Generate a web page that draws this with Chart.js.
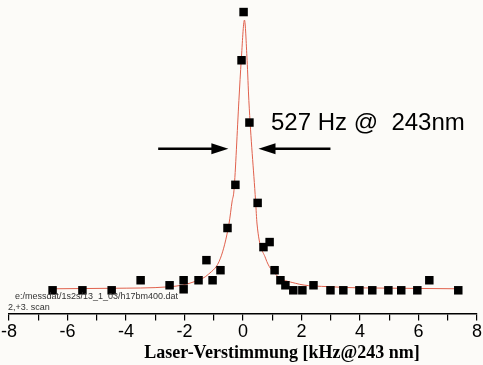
<!DOCTYPE html>
<html>
<head>
<meta charset="utf-8">
<script src="https://cdn.jsdelivr.net/npm/chart.js@4.4.1/dist/chart.umd.min.js"></script>
<style>
  html, body { margin: 0; padding: 0; background: #fcfbf8; }
  #wrap { width: 483px; height: 365px; position: relative; }
</style>
</head>
<body>
<div id="wrap"><canvas id="chart" width="483" height="365"></canvas></div>
<script>
// measured points (detuning in kHz, signal in arbitrary counts)
const scanX = [-6.51, -5.49, -4.49, -3.50, -2.51, -2.03, -2.03, -1.52, -1.25, -1.04,
  -0.77, -0.53, -0.26, -0.05, 0.02, 0.22, 0.50, 0.70, 0.91, 1.08,
  1.28, 1.45, 1.72, 2.03, 2.41, 2.99, 3.43, 3.98, 4.42, 4.97,
  5.41, 5.96, 6.37, 7.36];
const scanY = [1, 1, 1, 11, 6, 11, 2, 11, 31, 11,
  21, 63, 106, 230, 278, 168, 88, 44, 49, 21,
  11, 6, 1, 1, 6, 1, 1, 1, 1, 1,
  1, 1, 11, 1];

// fitted Lorentz curve
const fitX = [-6.51, -4.49, -2.51, -1.62, -1.18, -0.77, -0.48, -0.37, -0.31, -0.14, -0.06,
  0.05, 0.14, 0.20, 0.43, 0.48, 0.77, 1.11, 1.79, 2.99, 5.38, 7.36];
const fitY = [2.5, 3, 4.5, 10, 17, 33, 67, 90, 100, 190, 230,
  270, 230, 190, 90, 67, 33, 17, 8, 4.5, 3, 2.5];

const xTicks = [-8, -6, -4, -2, 0, 2, 4, 6, 8];
const widthLabel = "527 Hz @  243nm";
const fileLabel = "e:/messdat/1s2s/13_1_03/h17bm400.dat";
const scanLabel = "2,+3. scan";
const xTitle = "Laser-Verstimmung [kHz@243 nm]";
// FWHM arrows: tails and tips in kHz, height in counts
const arrowLeft = [-2.9, -0.5];
const arrowRight = [2.99, 0.53];
const arrowLevel = 142;

const annotations = {
  id: 'annotations',
  afterDraw(c) {
    const ctx = c.ctx;
    const xs = c.scales.x, ys = c.scales.y;
    ctx.save();

    // arrows
    const ay = ys.getPixelForValue(arrowLevel);
    function arrow(from, to) {
      const x0 = xs.getPixelForValue(from), x1 = xs.getPixelForValue(to);
      const dir = Math.sign(x1 - x0);
      ctx.strokeStyle = '#000';
      ctx.lineWidth = 2.5;
      ctx.beginPath();
      ctx.moveTo(x0, ay);
      ctx.lineTo(x1 - dir * 12, ay);
      ctx.stroke();
      ctx.fillStyle = '#000';
      ctx.beginPath();
      ctx.moveTo(x1, ay);
      ctx.lineTo(x1 - dir * 17, ay - 5.5);
      ctx.lineTo(x1 - dir * 17, ay + 5.5);
      ctx.closePath();
      ctx.fill();
    }
    arrow(arrowLeft[0], arrowLeft[1]);
    arrow(arrowRight[0], arrowRight[1]);

    // width label
    ctx.fillStyle = '#000';
    ctx.font = '24px "Liberation Sans", Arial, sans-serif';
    ctx.textBaseline = 'alphabetic';
    ctx.textAlign = 'left';
    ctx.fillText(widthLabel, 271, 130);

    // file path
    ctx.fillStyle = '#333';
    ctx.font = '9px "Liberation Sans", Arial, sans-serif';
    ctx.fillText(fileLabel, 15, 299);
    ctx.fillText(scanLabel, 8, 310);

    // axis title
    ctx.fillStyle = '#000';
    ctx.font = 'bold 18px "Liberation Serif", "Times New Roman", serif';
    ctx.textAlign = 'center';
    ctx.fillText(xTitle, 282, 358);
    ctx.restore();
  }
};

new Chart(document.getElementById('chart'), {
  type: 'scatter',
  data: {
    datasets: [
      {
        label: 'Fit',
        type: 'line',
        data: fitX.map((x, i) => ({ x: x, y: fitY[i] })),
        borderColor: '#e0604c',
        borderWidth: 1,
        pointRadius: 0,
        cubicInterpolationMode: 'monotone',
        fill: false,
        clip: false,
        order: 2
      },
      {
        label: 'Scan',
        data: scanX.map((x, i) => ({ x: x, y: scanY[i] })),
        pointStyle: 'rect',
        pointRadius: 6,
        backgroundColor: '#000',
        borderColor: '#000',
        borderWidth: 0,
        clip: false,
        order: 1
      }
    ]
  },
  options: {
    responsive: false,
    animation: false,
    layout: { autoPadding: false, padding: { left: 8, right: 6, top: 0, bottom: 21 } },
    plugins: {
      legend: { display: false },
      tooltip: { enabled: false }
    },
    scales: {
      x: {
        type: 'linear',
        min: -8,
        max: 8,
        grid: { drawOnChartArea: false, drawTicks: true, tickLength: 7, color: '#000', lineWidth: 1.2 },
        border: { display: true, color: '#000', width: 1.5 },
        ticks: {
          stepSize: 1,
          autoSkip: false,
          maxRotation: 0,
          padding: 1,
          color: '#000',
          font: { family: '"Liberation Sans", Arial, sans-serif', size: 18 },
          callback: v => xTicks.includes(v) ? String(v) : ''
        }
      },
      y: {
        display: false,
        min: -22,
        max: 290
      }
    }
  },
  plugins: [annotations]
});
</script>
</body>
</html>
